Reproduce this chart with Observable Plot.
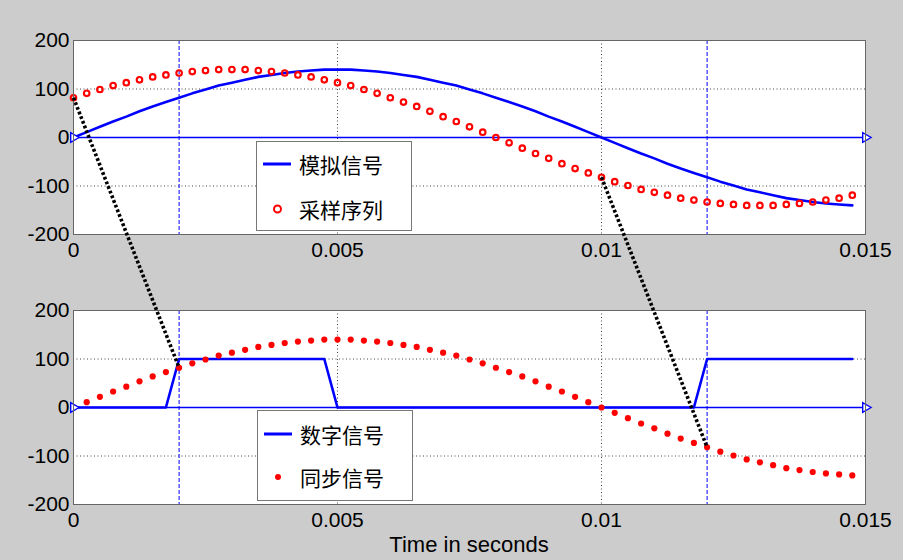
<!DOCTYPE html>
<html>
<head>
<meta charset="utf-8">
<script src="https://cdn.jsdelivr.net/npm/d3@7"></script>
<script src="https://cdn.jsdelivr.net/npm/@observablehq/plot@0.6"></script>
<style>
  html, body { margin: 0; padding: 0; background: #cccccc; }
  #fig { position: relative; width: 903px; height: 560px; background: #cccccc; overflow: hidden; }
  .panel { position: absolute; left: 0; }
  .legend { position: absolute; background: white; border: 1px solid #777; box-sizing: border-box; }
  .legend .txt { position: absolute; left: 42px; transform: translateY(-50%); font-family: "Noto Sans CJK SC", sans-serif; font-size: 21px; line-height: 24px; color: black; white-space: nowrap; }
  .legend .ln { position: absolute; left: 6px; width: 28px; height: 3px; background: #0000ff; transform: translateY(-50%); }
  .legend .circ { position: absolute; left: 16px; width: 5px; height: 5px; border: 2px solid #ff0000; border-radius: 50%; transform: translateY(-50%); }
  .legend .dotm { position: absolute; left: 17px; width: 6px; height: 6px; background: #ff0000; border-radius: 50%; transform: translateY(-50%); }
  #xlabel { position: absolute; left: 73px; width: 792px; top: 534px; text-align: center; font-family: "Liberation Sans", Arial, sans-serif; font-size: 22px; line-height: 22px; color: black; }
</style>
</head>
<body>
<div id="fig">
  <div id="top" class="panel" style="top:0px"></div>
  <div id="bot" class="panel" style="top:270px"></div>
  <div id="ovl" class="panel" style="top:0px;pointer-events:none"></div>
  <div class="legend" style="left:256px;top:141px;width:156px;height:90px">
    <div class="ln" style="top:22px"></div><div class="txt" style="top:22px">模拟信号</div>
    <div class="circ" style="top:67px"></div><div class="txt" style="top:67px">采样序列</div>
  </div>
  <div class="legend" style="left:257px;top:410px;width:156px;height:91px">
    <div class="ln" style="top:23px"></div><div class="txt" style="top:23px">数字信号</div>
    <div class="dotm" style="top:66px"></div><div class="txt" style="top:66px">同步信号</div>
  </div>
  <div id="xlabel">Time in seconds</div>
</div>
<script>
// ---- data ----
const times = [0,0.00025,0.0005,0.00075,0.001,0.00125,0.0015,0.00175,0.002,0.00225,
  0.0025,0.00275,0.003,0.00325,0.0035,0.00375,0.004,0.00425,0.0045,0.00475,
  0.005,0.00525,0.0055,0.00575,0.006,0.00625,0.0065,0.00675,0.007,0.00725,
  0.0075,0.00775,0.008,0.00825,0.0085,0.00875,0.009,0.00925,0.0095,0.00975,
  0.01,0.01025,0.0105,0.01075,0.011,0.01125,0.0115,0.01175,0.012,0.01225,
  0.0125,0.01275,0.013,0.01325,0.0135,0.01375,0.014,0.01425,0.0145,0.01475];

// 模拟信号 (analog, top blue line)
const analogValues = [0,11,22,33,43,54,64,73,82,91,99,107,113,119,125,129,133,136,138,140,
  140,140,138,136,133,129,125,119,113,107,99,91,82,73,64,54,43,33,22,11,
  0,-11,-22,-33,-43,-54,-64,-73,-82,-91,-99,-107,-113,-119,-125,-129,-133,-136,-138,-140];

// 采样序列 (sampled sequence, top red circles)
const sampleValues = [82,91,99,107,113,119,125,129,133,136,138,140,
  140,140,138,136,133,129,125,119,113,107,99,91,82,73,64,54,43,33,22,11,
  0,-11,-22,-33,-43,-54,-64,-73,-82,-91,-99,-107,-113,-119,-125,-129,-133,-136,-138,-140,
  -140,-140,-138,-136,-133,-129,-125,-119];

// 数字信号 (digital, bottom blue line)
const digitalValues = [0,0,0,0,0,0,0,0,100,100,100,100,100,100,100,100,100,100,100,100,
  0,0,0,0,0,0,0,0,0,0,0,0,0,0,0,0,0,0,0,0,
  0,0,0,0,0,0,0,0,100,100,100,100,100,100,100,100,100,100,100,100];

// 同步信号 (sync, bottom red dots)
const syncValues = [0,11,22,33,43,54,64,73,82,91,99,107,113,119,125,129,133,136,138,140,
  140,140,138,136,133,129,125,119,113,107,99,91,82,73,64,54,43,33,22,11,
  0,-11,-22,-33,-43,-54,-64,-73,-82,-91,-99,-107,-113,-119,-125,-129,-133,-136,-138,-140];

const markerTimes = [0.002, 0.012];       // blue dashed verticals
const linkStartTimes = [0, 0.01];         // top sample points
const linkEndTimes = [0.002, 0.012];      // bottom sync points
const axisLineTimes = [0, 0.015];         // zero line with arrows
const xTicks = [0, 0.005, 0.01, 0.015];
const yTicks = [-200, -100, 0, 100, 200];
const gridX = [0.005, 0.01];
const gridY = [-100, 100];
const xDomain = [0, 0.015];
const yDomain = [-200, 200];

// ---- build ----
const rows = times.map((t, i) => ({t, analog: analogValues[i], sample: sampleValues[i], digital: digitalValues[i], sync: syncValues[i]}));

function panel(dataMarks, height, marginBottom) {
  return Plot.plot({
    width: 903, height,
    marginTop: 40, marginBottom, marginLeft: 73, marginRight: 38,
    x: {domain: xDomain},
    y: {domain: yDomain},
    style: {background: "transparent", fontFamily: "'Liberation Sans', Arial, sans-serif", fontSize: "21px", color: "black", overflow: "visible"},
    marks: [
      Plot.frame({fill: "white", stroke: "none"}),
      Plot.ruleY(gridY, {stroke: "#444", strokeDasharray: "1,2.5", strokeWidth: 1}),
      Plot.ruleX(gridX, {stroke: "#444", strokeDasharray: "1,2.5", strokeWidth: 1}),
      Plot.ruleX(markerTimes, {stroke: "#0000ff", strokeDasharray: "4,2", strokeWidth: 1}),
      Plot.line(axisLineTimes, {x: d => d, y: d => 0, stroke: "#0000ff", strokeWidth: 1.6}),
      ...dataMarks,
      Plot.dot(axisLineTimes, {x: d => d, y: d => 0, symbol: "triangle", rotate: 90, r: 3.6, stroke: "#0000ff", fill: "white", strokeWidth: 1.4}),
      Plot.frame({stroke: "#666", strokeWidth: 1}),
      Plot.axisY({ticks: yTicks, tickSize: 0, tickPadding: 4, label: null, tickFormat: d => String(d)}),
      Plot.axisX({ticks: xTicks, tickSize: 0, tickPadding: 8, label: null, tickFormat: d => String(d)})
    ]
  });
}

const topPlot = panel([
  Plot.line(rows, {x: "t", y: "analog", stroke: "#0000ff", strokeWidth: 2.6}),
  Plot.dot(rows, {x: "t", y: "sample", r: 2.8, stroke: "#ff0000", strokeWidth: 2.1, fill: "none"})
], 270, 36);

const botPlot = panel([
  Plot.line(rows, {x: "t", y: "digital", stroke: "#0000ff", strokeWidth: 2.6}),
  Plot.dot(rows, {x: "t", y: "sync", r: 3.1, fill: "#ff0000", stroke: "none"})
], 290, 56);

document.getElementById("top").appendChild(topPlot);
document.getElementById("bot").appendChild(botPlot);

// dotted links between panels, positions from the panels' own scales
const yTop = topPlot.scale("y");
const yBot = botPlot.scale("y");
const links = linkStartTimes.map((t1, i) => {
  const t2 = linkEndTimes[i];
  const v1 = sampleValues[times.indexOf(t1)];
  const v2 = syncValues[times.indexOf(t2)];
  return {t1, t2, py1: yTop.apply(v1), py2: yBot.apply(v2) + 270};
});

const overlay = Plot.plot({
  width: 903, height: 560,
  marginTop: 0, marginBottom: 0, marginLeft: 73, marginRight: 38,
  x: {domain: xDomain, axis: null},
  y: {type: "identity", axis: null},
  style: {background: "transparent", overflow: "visible"},
  marks: [
    Plot.link(links, {x1: "t1", y1: "py1", x2: "t2", y2: "py2", stroke: "black", strokeWidth: 3.6, strokeDasharray: "2.8,2.2"})
  ]
});
document.getElementById("ovl").appendChild(overlay);
</script>
</body>
</html>
